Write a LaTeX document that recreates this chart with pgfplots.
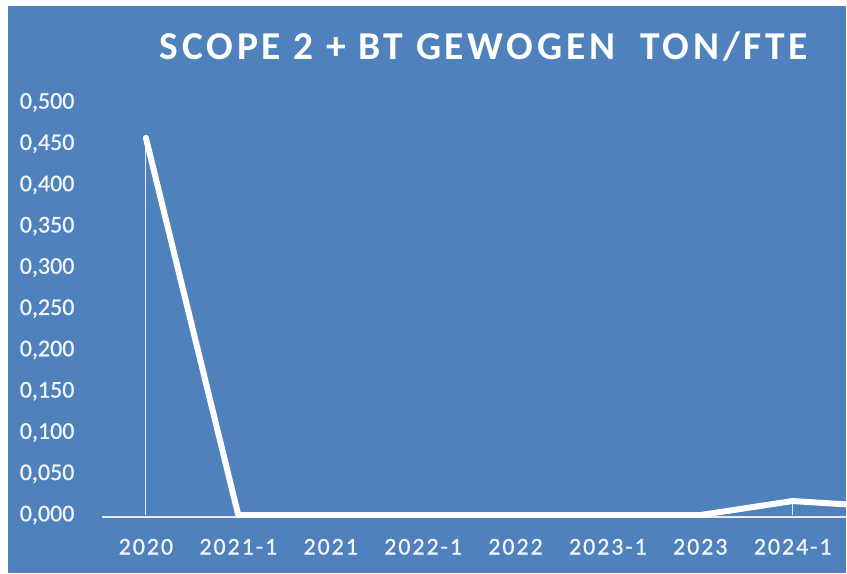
\documentclass[border=0pt]{standalone}
\usepackage{pgfplots}
\pgfplotsset{compat=1.18}
\usepackage{fontspec}
\setmainfont{Carlito}[FakeBold=0.8]
\newfontfamily\yfont[FakeBold=0.8]{Carlito}
\newfontfamily\xfont[LetterSpace=8,FakeBold=0.8]{Carlito}
\newfontfamily\tfont[LetterSpace=9.5]{Carlito}
\definecolor{bgblue}{RGB}{79,129,189}
\begin{document}
\begin{tikzpicture}[x=1pt,y=1pt]
\fill[white] (0,0) rectangle (847,574);
\fill[bgblue] (8,0) rectangle (847,568);
\node[anchor=base, text=white, font={\tfont\fontsize{39.5}{44}\selectfont\bfseries}] at (484.5,514) {SCOPE 2 + BT GEWOGEN\ \ TON/FTE};
\begin{axis}[
  at={(102pt,56.5pt)}, anchor=south west,
  scale only axis, width=745pt, height=415pt,
  xmin=-0.476, xmax=7.58,
  ymin=-0.0024, ymax=0.5,
  axis x line=bottom, axis y line=left,
  x axis line style={draw=white!85!bgblue, line width=1.5pt, -},
  y axis line style={draw=none},
  major tick length=0pt,
  xtick={0,...,7},
  xticklabels={2020,2021-1,2021,2022-1,2022,2023-1,2023,2024-1},
  xticklabel style={font={\xfont\fontsize{24}{28}\selectfont}, text=white!93!bgblue, anchor=base, yshift=-37.5pt},
  ytick={0,0.05,...,0.5},
  yticklabel style={font={\yfont\fontsize{24}{28}\selectfont}, text=white!93!bgblue, anchor=east, xshift=-24pt},
  /pgf/number format/.cd, fixed, fixed zerofill, precision=3, use comma, assume math mode=true,
]
\addplot[draw=white!85!bgblue, line width=1.2pt, ycomb, forget plot] coordinates {(0,0.457) (7,0.017)};
\addplot[white, line width=6pt, line join=round, line cap=round] coordinates {
(0,0.457) (1,0) (2,0) (3,0) (4,0) (5,0) (6,0) (7,0.017) (8,0.010)};
\end{axis}
\end{tikzpicture}
\end{document}
